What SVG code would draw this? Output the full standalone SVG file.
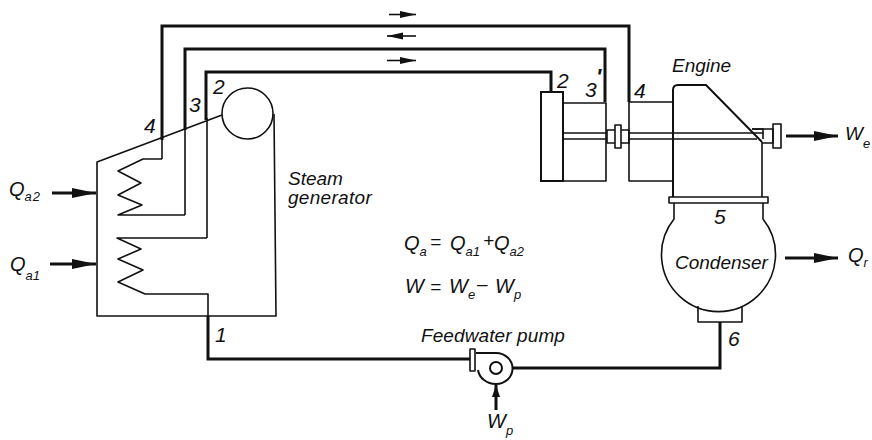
<svg xmlns="http://www.w3.org/2000/svg" width="872" height="440" viewBox="0 0 872 440">
<style>
.l{fill:none;stroke:#111;stroke-width:1.6;stroke-linejoin:round}
.p{fill:none;stroke:#111;stroke-width:3;stroke-linejoin:miter}
.m{fill:none;stroke:#111;stroke-width:2}
.a{fill:none;stroke:#111;stroke-width:3;marker-end:url(#h)}
.w{fill:none;stroke:#111;stroke-width:3;marker-end:url(#hw)}
.s{fill:none;stroke:#111;stroke-width:1.6;marker-end:url(#hs)}
text{font-family:"Liberation Sans",Arial,sans-serif;font-style:italic;fill:#111;font-size:19px}
.d{font-size:21px}
.q{font-size:20px}
.sub{font-size:13px}
</style>
<defs>
<marker id="h" markerUnits="userSpaceOnUse" markerWidth="26" markerHeight="12" refX="24" refY="6" orient="auto"><path d="M0 1L24 6L0 11Z" fill="#111"/></marker>
<marker id="hw" markerUnits="userSpaceOnUse" markerWidth="14" markerHeight="10" refX="12" refY="5" orient="auto"><path d="M0 1L12 5L0 9Z" fill="#111"/></marker>
<marker id="hs" markerUnits="userSpaceOnUse" markerWidth="18" markerHeight="10" refX="16" refY="4" orient="auto"><path d="M0 0.5L16 4L0 7.5Z" fill="#111"/></marker>
</defs>
<g id="connectors">
<path class="p" d="M162 140V26H629V102"/>
<path class="p" d="M185 130V49H605V102"/>
<path class="p" d="M206 120V72H551V92"/>
<path class="l" d="M162 138V159"/>
<path class="l" d="M185 128V215"/>
<path class="l" d="M207 118V238"/>
<path class="p" d="M208 316V359H470"/>
<path class="p" d="M513 368H720V322"/>
<path class="s" d="M389 14.500H416"/>
<path class="s" d="M416 36H387"/>
<path class="s" d="M387 60.500H416"/>
<path class="a" d="M52 193H96"/>
<path class="a" d="M50 264H96"/>
<path class="a" d="M786 136H838"/>
<path class="a" d="M785 258H838"/>
<path class="w" d="M496 410V385"/>
</g>
<g id="steam-generator">
<path class="l" d="M222 115L97 162V316H276L274 114"/>
<circle class="l" cx="247.500" cy="113.500" r="25.500" fill="#fff"/>
<path class="l" d="M162 159H143L118 171L141 183L118 195L142 205L118 215H185"/>
<path class="l" d="M207 238H117L141 249L118 259L143 270L118 282L145 294H208V316"/>
</g>
<g id="engine">
<path class="m" d="M541 92H563V181H541Z"/>
<path class="l" d="M563 103H606V181H563"/>
<path class="l" d="M563 133H607M563 139H607"/>
<path class="l" d="M607 130H615V143H607ZM615 125H621V148H615ZM621 130H629V143H621Z"/>
<path class="l" d="M629 102H673V181H629Z"/>
<path class="l" d="M629 133H763V129H752M629 139H757"/>
<path class="m" d="M673 197V90Q673 85 678 85H706L762 142"/>
<path class="l" d="M762 142V197"/>
<path class="l" d="M763 133V139M752 129H773V143H762"/>
<path class="l" d="M773 124H781V148H773Z"/>
</g>
<g id="condenser">
<rect class="l" x="669" y="197" width="99" height="6"/>
<path class="l" d="M674 203V219A57 57 0 1 0 763 219V203"/>
<path class="l" d="M698 306V322H742V306"/>
</g>
<g id="pump">
<rect class="l" x="470" y="349" width="5" height="22"/>
<path class="m" d="M476 353H496A16 15 0 0 1 496 384A18 16 0 0 1 478 370"/>
<circle class="m" cx="496" cy="368" r="6"/>
</g>
<g id="labels">
<text class="q" x="9" y="196">Q<tspan class="sub" dy="5" letter-spacing="1">a2</tspan></text>
<text class="q" x="10" y="271">Q<tspan class="sub" dy="9">a1</tspan></text>
<text class="d" x="144" y="133">4</text>
<text class="d" x="189" y="112">3</text>
<text class="d" x="213" y="94">2</text>
<text x="288" y="185">Steam</text>
<text x="288" y="204" letter-spacing=".3">generator</text>
<text class="d" x="557" y="88">2</text>
<text class="d" x="585" y="97">3</text>
<text x="596" y="84" style="font-weight:bold;font-size:22px">'</text>
<text class="d" x="634" y="98">4</text>
<text x="672" y="72">Engine</text>
<text class="d" x="714" y="224">5</text>
<text x="675" y="269">Condenser</text>
<text x="845" y="140">W<tspan class="sub" dy="8">e</tspan></text>
<text class="q" x="848" y="262">Q<tspan class="sub" dy="5">r</tspan></text>
<text class="q" x="404" y="250">Q<tspan class="sub" dy="6">a</tspan></text>
<text x="430" y="248">=</text>
<text class="q" x="450" y="250">Q<tspan class="sub" dy="6">a1</tspan></text>
<text x="483" y="247">+</text>
<text class="q" x="494" y="250">Q<tspan class="sub" dy="6">a2</tspan></text>
<text class="q" x="405" y="293">W</text>
<text x="430" y="293">=</text>
<text class="q" x="449" y="293">W<tspan class="sub" dy="6">e</tspan></text>
<text x="477" y="290">–</text>
<text class="q" x="495" y="293">W<tspan class="sub" dy="6">p</tspan></text>
<text x="421" y="342" letter-spacing=".1">Feedwater pump</text>
<text class="q" x="487" y="428">W<tspan class="sub" dy="7">p</tspan></text>
<text class="d" x="215" y="342">1</text>
<text class="d" x="728" y="346">6</text>
</g>
</svg>
